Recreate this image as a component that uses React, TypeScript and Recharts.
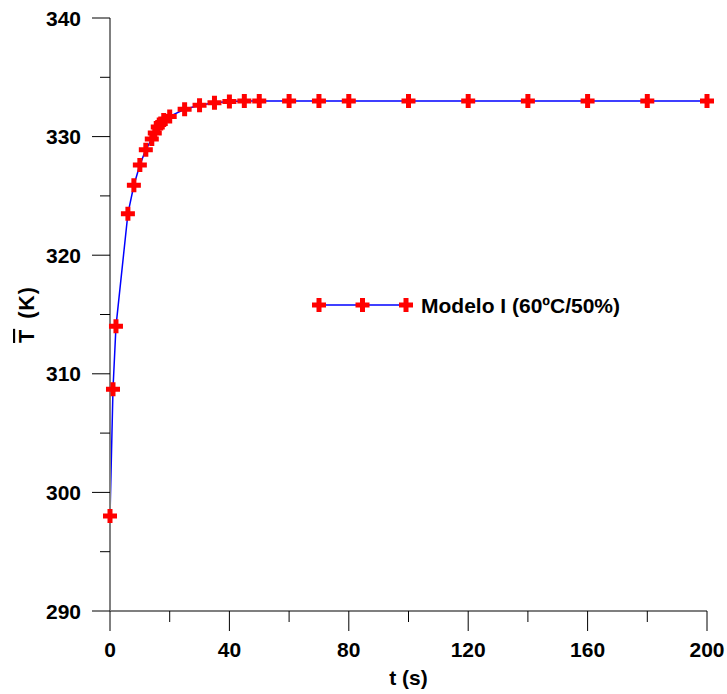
import React from 'react';
import { LineChart, Line, XAxis, YAxis, Legend } from 'recharts';

const timeS = [0, 1, 2, 6, 8, 10, 12, 14, 15, 16, 17, 18, 20, 25, 30, 35, 40, 45, 50, 60, 70, 80, 100, 120, 140, 160, 180, 200];
const tempK = [298.0, 308.7, 314.0, 323.5, 325.9, 327.6, 328.9, 329.8, 330.3, 330.8, 331.1, 331.4, 331.7, 332.3, 332.65, 332.85, 332.95, 333.0, 333.0, 333.0, 333.0, 333.0, 333.0, 333.0, 333.0, 333.0, 333.0, 333.0];
const xTicks = [0, 20, 40, 60, 80, 100, 120, 140, 160, 180, 200];
const xLabelTicks = [0, 40, 80, 120, 160, 200];
const yTicks = [290, 295, 300, 305, 310, 315, 320, 325, 330, 335, 340];
const yLabelTicks = [290, 300, 310, 320, 330, 340];
const seriesName = 'Modelo I (60ºC/50%)';
const xTitle = 't (s)';

const data = timeS.map((t, i) => ({ t, T: tempK[i] }));

const FONT = '"Liberation Sans", Arial, Helvetica, sans-serif';
const FS = 21;

const plusPath = (cx: number, cy: number, h = 7, a = 2.5) =>
  `M${cx - h},${cy - a}H${cx - a}V${cy - h}H${cx + a}V${cy - a}H${cx + h}V${cy + a}H${cx + a}V${cy + h}H${cx - a}V${cy + a}H${cx - h}Z`;

const PlusDot = (props: any) => {
  const { cx, cy, index } = props;
  if (cx == null || cy == null) return <g key={`p-${index}`} />;
  return <path key={`p-${index}`} d={plusPath(cx, cy)} fill="#FF0000" />;
};

const XTick = (props: any) => {
  const { x, y, payload } = props;
  const major = xLabelTicks.includes(payload.value);
  return (
    <g>
      <line x1={x} x2={x} y1={y} y2={y + (major ? 20 : 11)} stroke="#000" strokeWidth={1} />
      {major && (
        <text x={x} y={y + 45.5} textAnchor="middle" fontFamily={FONT} fontWeight="bold" fontSize={FS} fill="#000">
          {payload.value}
        </text>
      )}
    </g>
  );
};

const YTick = (props: any) => {
  const { x, y, payload } = props;
  const major = yLabelTicks.includes(payload.value);
  return (
    <g>
      <line x1={x - (major ? 18 : 10)} x2={x} y1={y} y2={y} stroke="#000" strokeWidth={1} />
      {major && (
        <text x={x - 29} y={y + 7.5} textAnchor="end" fontFamily={FONT} fontWeight="bold" fontSize={FS} fill="#000">
          {payload.value}
        </text>
      )}
    </g>
  );
};

const XTitle = (props: any) => {
  const vb = props.viewBox || { x: 110, y: 611, width: 597, height: 83 };
  return (
    <text x={vb.x + vb.width / 2} y={vb.y + 73.5} textAnchor="middle" fontFamily={FONT} fontWeight="bold" fontSize={FS} fill="#000">
      {xTitle}
    </text>
  );
};

const YTitle = (props: any) => {
  const vb = props.viewBox || { x: 0, y: 18, width: 110, height: 593 };
  const cy = vb.y + vb.height / 2;
  return (
    <text transform={`translate(34,${cy}) rotate(-90)`} textAnchor="middle" fontFamily={FONT} fontWeight="bold" fontSize={21.5} fill="#000" letterSpacing={1}>
      <tspan style={{ textDecoration: 'overline' }}>T</tspan>
      <tspan dx={3}> (K)</tspan>
    </text>
  );
};

const LegendContent = () => (
  <svg width={330} height={30} style={{ display: 'block', overflow: 'visible' }}>
    <line x1={6} x2={93} y1={15} y2={15} stroke="#0000FF" strokeWidth={1.5} />
    <path d={plusPath(6, 15)} fill="#FF0000" />
    <path d={plusPath(49.5, 15)} fill="#FF0000" />
    <path d={plusPath(93, 15)} fill="#FF0000" />
    <text x={108} y={22.5} fontFamily={FONT} fontWeight="bold" fontSize={FS} fill="#000">
      {seriesName}
    </text>
  </svg>
);

export default function App() {
  return (
    <div style={{ position: 'absolute', left: 0, top: 0, width: 727, height: 694, background: '#fff' }}>
      <LineChart width={727} height={694} data={data} margin={{ top: 18, right: 20, left: 0, bottom: 0 }}>
        <XAxis
          dataKey="t"
          type="number"
          domain={[0, 200]}
          ticks={xTicks}
          interval={0}
          height={83}
          tickSize={0}
          tickMargin={0}
          tickLine={false}
          axisLine={{ stroke: '#000', strokeWidth: 1.2 }}
          tick={<XTick />}
          label={<XTitle />}
        />
        <YAxis
          dataKey="T"
          type="number"
          domain={[290, 340]}
          ticks={yTicks}
          interval={0}
          width={110}
          tickSize={0}
          tickMargin={0}
          tickLine={false}
          axisLine={{ stroke: '#808080', strokeWidth: 2 }}
          tick={<YTick />}
          label={<YTitle />}
        />
        <Legend
          verticalAlign="middle"
          align="center"
          layout="horizontal"
          wrapperStyle={{ left: 313, top: 290, width: 330, height: 30 }}
          content={<LegendContent />}
        />
        <Line
          dataKey="T"
          name={seriesName}
          type="linear"
          stroke="#0000FF"
          strokeWidth={1.5}
          dot={PlusDot}
          activeDot={false}
          isAnimationActive={false}
        />
      </LineChart>
    </div>
  );
}
